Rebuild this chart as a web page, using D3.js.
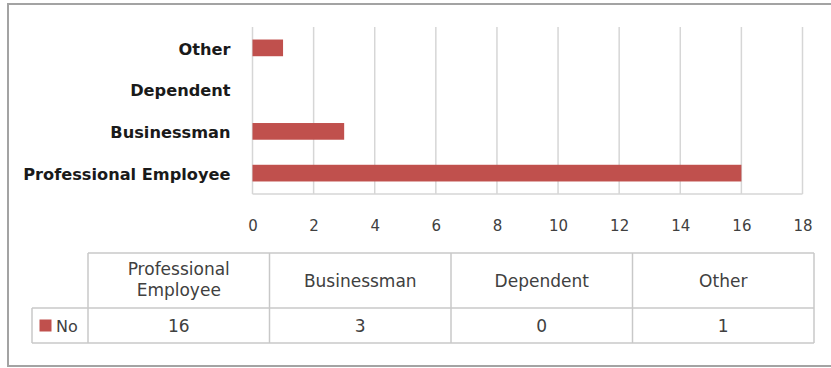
<!DOCTYPE html>
<html>
<head>
<meta charset="utf-8">
<script src="https://cdn.jsdelivr.net/npm/d3@7"></script>
<style>
  html, body { margin: 0; padding: 0; background: #fff; }
  svg { display: block; }
</style>
</head>
<body>
<svg id="chart" width="831" height="368"></svg>
<script>
// Occupation counts for the "No" series
const categories = ["Professional Employee", "Businessman", "Dependent", "Other"];
const headerLines = [["Professional", "Employee"], ["Businessman"], ["Dependent"], ["Other"]];
const seriesName = "No";
const values = [16, 3, 0, 1];
const xTicks = [0, 2, 4, 6, 8, 10, 12, 14, 16, 18];

const data = categories.map((c, i) => ({ category: c, header: headerLines[i], value: values[i] }));

const svg = d3.select("#chart");
const barColor = "#C0504D";
const gridColor = "#d6d6d6";
const textColor = "#404040";
const tableLine = "#c8c8c8";
const font = "'DejaVu Sans', sans-serif";

// outer frame
svg.append("path")
  .attr("d", "M840,4 H8 V366 H840")
  .attr("fill", "none")
  .attr("stroke", "#a3a3a3")
  .attr("stroke-width", 2);

// plot area
const plot = { left: 252.5, right: 802.5, top: 27, bottom: 194 };

const x = d3.scaleLinear().domain([0, 18]).range([plot.left, plot.right]);
const y = d3.scaleBand()
  .domain(categories.slice().reverse())
  .range([plot.top, plot.bottom])
  .paddingInner(0.6)
  .paddingOuter(0.3);

// vertical gridlines
svg.append("g")
  .selectAll("line")
  .data(xTicks)
  .join("line")
  .attr("x1", d => x(d)).attr("x2", d => x(d))
  .attr("y1", plot.top).attr("y2", plot.bottom)
  .attr("stroke", gridColor)
  .attr("stroke-width", 1.5);

// baseline along the bottom of the plot
svg.append("line")
  .attr("x1", plot.left).attr("x2", plot.right)
  .attr("y1", plot.bottom).attr("y2", plot.bottom)
  .attr("stroke", gridColor)
  .attr("stroke-width", 1.5);

// bars
svg.append("g")
  .selectAll("rect")
  .data(data)
  .join("rect")
  .attr("x", x(0))
  .attr("y", d => y(d.category))
  .attr("width", d => x(d.value) - x(0))
  .attr("height", y.bandwidth())
  .attr("fill", barColor);

// category labels
const yAxis = d3.axisLeft(y).tickSize(0).tickPadding(22);
const yg = svg.append("g")
  .attr("transform", `translate(${plot.left},0)`)
  .call(yAxis);
yg.select(".domain").remove();
yg.selectAll("text")
  .attr("font-family", font)
  .attr("font-weight", "bold")
  .attr("font-size", 16.2)
  .attr("dy", "0.42em")
  .attr("fill", "#1a1a1a");

// value axis labels
const xAxis = d3.axisBottom(x).tickValues(xTicks).tickSize(0).tickPadding(26);
const xg = svg.append("g")
  .attr("transform", `translate(0,${plot.bottom})`)
  .call(xAxis);
xg.select(".domain").remove();
xg.selectAll("text")
  .attr("font-family", font)
  .attr("font-size", 15)
  .attr("fill", textColor);

// data table beneath the chart
const table = { left: 88, right: 814, top: 253, mid: 308, bottom: 343, legendLeft: 32 };
const col = d3.scaleBand().domain(categories).range([table.left, table.right]);

const tg = svg.append("g");
const line = (x1, y1, x2, y2) => tg.append("line")
  .attr("x1", x1).attr("y1", y1).attr("x2", x2).attr("y2", y2)
  .attr("stroke", tableLine).attr("stroke-width", 1.5);

line(table.left, table.top, table.right, table.top);
line(table.legendLeft, table.mid, table.right, table.mid);
line(table.legendLeft, table.bottom, table.right, table.bottom);
line(table.legendLeft, table.mid, table.legendLeft, table.bottom);
categories.forEach(c => line(col(c), table.top, col(c), table.bottom));
line(table.right, table.top, table.right, table.bottom);

// header cells
tg.selectAll("text.header")
  .data(data)
  .join("text")
  .attr("class", "header")
  .attr("x", d => col(d.category) + col.bandwidth() / 2)
  .attr("y", (table.top + table.mid) / 2 + 1)
  .attr("text-anchor", "middle")
  .attr("font-family", font)
  .attr("font-size", 17)
  .attr("fill", textColor)
  .each(function(d) {
    const t = d3.select(this);
    const n = d.header.length;
    d.header.forEach((s, i) => {
      t.append("tspan")
        .attr("x", col(d.category) + col.bandwidth() / 2)
        .attr("dy", i === 0 ? `${0.35 - (n - 1) * 0.75}em` : "1.25em")
        .text(s);
    });
  });

// value cells
tg.selectAll("text.value")
  .data(data)
  .join("text")
  .attr("class", "value")
  .attr("x", d => col(d.category) + col.bandwidth() / 2)
  .attr("y", (table.mid + table.bottom) / 2)
  .attr("dy", "0.38em")
  .attr("text-anchor", "middle")
  .attr("font-family", font)
  .attr("font-size", 17)
  .attr("fill", textColor)
  .text(d => d.value);

// legend key in the row header
const rowMid = (table.mid + table.bottom) / 2;
tg.append("rect")
  .attr("x", 39.5).attr("y", rowMid - 6)
  .attr("width", 12).attr("height", 12)
  .attr("fill", barColor);
tg.append("text")
  .attr("x", 56).attr("y", rowMid).attr("dy", "0.38em")
  .attr("font-family", font)
  .attr("font-size", 16)
  .attr("fill", textColor)
  .text(seriesName);
</script>
</body>
</html>
